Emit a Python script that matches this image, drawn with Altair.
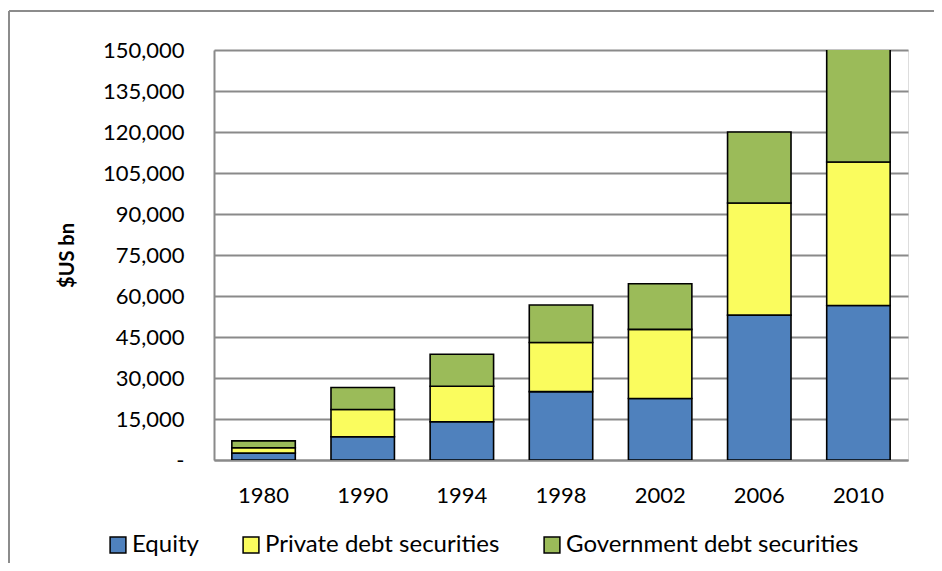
import altair as alt
import pandas as pd

years = ["1980", "1990", "1994", "1998", "2002", "2006", "2010"]
equity = [2500, 8500, 14000, 25000, 22500, 53000, 56500]
private_debt = [2000, 10000, 13000, 18000, 25300, 41000, 52500]
government_debt = [2500, 8000, 11700, 13700, 16700, 26000, 44000]
series = ["Equity", "Private debt securities", "Government debt securities"]
colors = ["#4F81BD", "#FAFC5E", "#9BBB59"]
y_ticks = list(range(0, 150001, 15000))

rows = []
for i, yr in enumerate(years):
    for k, vals in enumerate([equity, private_debt, government_debt]):
        rows.append({"year": yr, "series": series[k], "value": vals[i], "order": k})
df = pd.DataFrame(rows)

FONT = "Lato"
GRID = "#8a8a8a"

bars = alt.Chart(df).mark_bar(stroke="black", strokeWidth=1.6, clip=True).encode(
    x=alt.X(
        "year:N", sort=years, title=None,
        scale=alt.Scale(paddingInner=0.36, paddingOuter=0.18),
        axis=alt.Axis(labelAngle=0, labelFontSize=22, labelPadding=25, ticks=False,
                      domainColor=GRID, domainWidth=2, labelFont=FONT, labelColor="black",
                      grid=False),
    ),
    y=alt.Y(
        "value:Q", stack="zero", title="$US bn",
        scale=alt.Scale(domain=[0, 150000], nice=False),
        axis=alt.Axis(values=y_ticks,
                      labelExpr="datum.value == 0 ? '-' : format(datum.value, ',')",
                      labelFontSize=22, labelFont=FONT, labelColor="black", labelPadding=30,
                      ticks=False, domainColor=GRID, domainWidth=2,
                      grid=True, gridColor=GRID, gridWidth=2,
                      titleFont=FONT, titleFontSize=20, titleFontWeight="bold", titleColor="black",
                      titleX=-147, titleY=205, titleAngle=-90, titleAlign="center",
                      titleBaseline="middle"),
    ),
    color=alt.Color(
        "series:N",
        scale=alt.Scale(domain=series, range=colors),
        legend=alt.Legend(title=None, orient="none", legendX=-108, legendY=483,
                          direction="horizontal", columns=3, symbolType="square",
                          symbolSize=250, symbolStrokeColor="black", symbolStrokeWidth=1.5,
                          labelFontSize=24, labelFont=FONT, labelColor="black", labelLimit=0,
                          columnPadding=40, labelOffset=2),
    ),
    order=alt.Order("order:Q", sort="ascending"),
)

dummy = pd.DataFrame({"a": [0]})
frame_top = alt.Chart(dummy).mark_rule(color="#8c8c8c", strokeWidth=2).encode(
    x=alt.value(-205), x2=alt.value(730), y=alt.value(-39), y2=alt.value(-39))
frame_left = alt.Chart(dummy).mark_rule(color="#8c8c8c", strokeWidth=2).encode(
    x=alt.value(-205), x2=alt.value(-205), y=alt.value(-39), y2=alt.value(520))

chart = alt.layer(frame_top, frame_left, bars).properties(
    width=694, height=410,
    padding={"left": 206, "top": 42, "right": 26, "bottom": 103},
    autosize=alt.AutoSizeParams(type="none"),
).configure_view(stroke=None).configure(background="white")

chart.save("out.html", embed_options={"renderer": "svg", "actions": False})
